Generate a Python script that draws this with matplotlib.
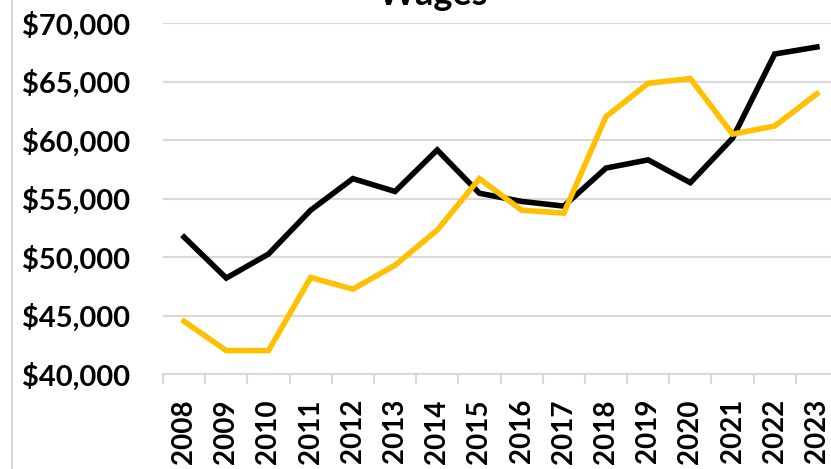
import matplotlib.pyplot as plt
from matplotlib.ticker import FuncFormatter, FixedLocator

# data
years = [str(y) for y in range(2008, 2024)]
wages_black = [51700, 48200, 50250, 54000, 56700, 55600, 59150, 55450,
               54750, 54350, 57600, 58300, 56350, 60150, 67350, 67950]
wages_gold = [44500, 42000, 42000, 48250, 47250, 49300, 52300, 56700,
              54000, 53750, 62000, 64850, 65250, 60500, 61200, 63950]

W, H = 831, 469
plt.rcParams['font.family'] = ['Lato', 'DejaVu Sans']
fig = plt.figure(figsize=(W / 100, H / 100), dpi=100)

# plot area in pixel coords of the reference
left, right, top, bottom = 163, 838, 23, 374
ax = fig.add_axes([left / W, 1 - bottom / H, (right - left) / W, (bottom - top) / H])

x = list(range(len(years)))
ax.plot(x, wages_black, color='black', lw=4, solid_joinstyle='miter', zorder=3)
ax.plot(x, wages_gold, color='#FFC000', lw=4, solid_joinstyle='miter', zorder=3)

ax.set_xlim(-0.5, len(years) - 0.5)
ax.set_ylim(40000, 70000)
ax.set_yticks(range(40000, 70001, 5000))
ax.yaxis.set_major_formatter(FuncFormatter(lambda v, p: f'${v:,.0f}'))
ax.grid(axis='y', color='#d9d9d9', lw=1.5, zorder=0)

ax.set_xticks(x)
ax.set_xticklabels(years, rotation=90, fontsize=20, fontweight='bold')
ax.xaxis.set_minor_locator(FixedLocator([i - 0.5 for i in range(len(years) + 1)]))
ax.tick_params(axis='x', which='major', length=0, pad=18)
ax.tick_params(axis='x', which='minor', length=7, width=1.5, color='#d9d9d9')
ax.tick_params(axis='y', length=0, pad=24, labelsize=21)
for lab in ax.get_yticklabels():
    lab.set_fontweight('bold')

for s in ['top', 'right', 'left']:
    ax.spines[s].set_visible(False)
ax.spines['bottom'].set_color('#d9d9d9')
ax.spines['bottom'].set_linewidth(1.5)

# chart border on the left edge
fig.add_artist(plt.Line2D([12 / W, 12 / W], [0, 1], color='#d9d9d9', lw=1.5))

fig.text(433 / W, 1 - 5 / H, 'Wages', ha='center', va='baseline',
         fontsize=26, fontweight='bold')

fig.savefig('out.png', dpi=100)
